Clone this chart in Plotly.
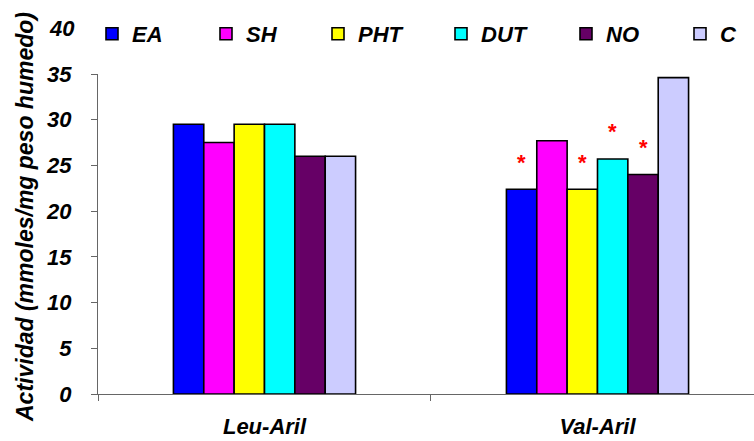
import plotly.graph_objects as go

categories = ["Leu-Aril", "Val-Aril"]
series_names = ["EA", "SH", "PHT", "DUT", "NO", "C"]
series_colors = ["#0000FF", "#FF00FF", "#FFFF00", "#00FFFF", "#660066", "#CCCCFF"]
leu_values = [29.5, 27.5, 29.5, 29.5, 26.0, 26.0]
val_values = [22.4, 27.7, 22.4, 25.7, 24.0, 34.6]
# significance marks (Val-Aril group)
sig_series = ["EA", "PHT", "DUT", "NO"]
y_ticks = [0, 5, 10, 15, 20, 25, 30, 35]

FONT = "Liberation Sans, Arial, sans-serif"
W, H = 754, 441
ML, MR, MT, MB = 98, 0, 74, 47
BARGAP = 0.453
XR = [-0.5, 1.47]
YR = [0, 35]

fig = go.Figure()
legend_left_px = [106, 220, 332, 455, 580, 694]
for i, name in enumerate(series_names):
    fig.add_trace(go.Bar(
        x=categories, y=[leu_values[i], val_values[i]], name=name,
        marker=dict(color=series_colors[i], line=dict(color="#000000", width=1.6)),
        legend="legend" if i == 0 else f"legend{i+1}",
    ))

nser = len(series_names)
bw = (1 - BARGAP) / nser
annots = []
for s in sig_series:
    i = series_names.index(s)
    annots.append(dict(
        x=1 + (i - (nser - 1) / 2) * bw, y=val_values[i] + 3.4, xref="x", yref="y",
        text="*", showarrow=False, yanchor="middle", yshift=-4,
        font=dict(family=FONT, size=22, color="#FF0000", weight="bold"),
    ))

pw = W - ML - MR
ph = H - MT - MB
# tick label "40" above the axis line
annots.append(dict(
    x=0, y=40 / YR[1], xref="paper", yref="paper", xanchor="right", yanchor="middle",
    xshift=-21, text="40", showarrow=False,
    font=dict(family=FONT, size=22, color="#000000", weight="bold", style="italic"),
))
annots.append(dict(
    x=(25 - ML) / pw, y=(H - MB - 217) / ph, xref="paper", yref="paper",
    xanchor="center", yanchor="middle", textangle=-90,
    text="Actividad (mmoles/mg peso humedo)", showarrow=False,
    font=dict(family=FONT, size=23, color="#000000", weight="bold", style="italic"),
))

legends = {}
for i in range(nser):
    key = "legend" if i == 0 else f"legend{i+1}"
    legends[key] = dict(
        x=(legend_left_px[i] - 14 - ML) / pw, y=(H - MB - 34) / ph,
        xanchor="left", yanchor="middle", orientation="h",
        bgcolor="rgba(0,0,0,0)", borderwidth=0,
        font=dict(family=FONT, size=22, color="#000000", weight="bold", style="italic"),
    )

fig.update_layout(
    width=W, height=H,
    margin=dict(l=ML, r=MR, t=MT, b=MB, pad=0),
    paper_bgcolor="white", plot_bgcolor="white",
    barmode="group", bargap=BARGAP, bargroupgap=0,
    showlegend=True,
    annotations=annots,
    xaxis=dict(
        range=XR, showline=True, linecolor="#666666", linewidth=1.2,
        ticks="outside", tickson="boundaries", ticklen=6, tickcolor="#666666",
        showgrid=False, zeroline=False, ticklabelstandoff=12,
        tickfont=dict(family=FONT, size=22, color="#000000", weight="bold", style="italic"),
    ),
    yaxis=dict(
        range=YR, tickvals=y_ticks, showline=True, linecolor="#666666", linewidth=1.2,
        ticks="outside", ticklen=6, tickcolor="#666666",
        showgrid=False, zeroline=False, ticklabelstandoff=15,
        tickfont=dict(family=FONT, size=22, color="#000000", weight="bold", style="italic"),
    ),
    **legends,
)

fig.write_html("out.html")
